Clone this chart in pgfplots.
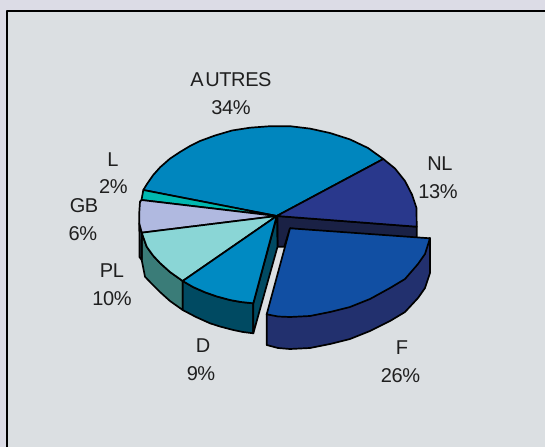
\documentclass[border=0pt]{standalone}
\usepackage{fontspec}
\setmainfont{Liberation Sans}
\usepackage{pgfplots}
\pgfplotsset{compat=1.18}
\definecolor{outerbg}{HTML}{DCDCE6}
\definecolor{innerbg}{HTML}{DBDFE2}
\definecolor{cAutres}{HTML}{0086BE}
\definecolor{cNL}{HTML}{29388C}
\definecolor{cF}{HTML}{114FA3}
\definecolor{cFw}{HTML}{22306E}
\definecolor{cDark}{HTML}{1A2145}
\definecolor{cD}{HTML}{008AC2}
\definecolor{cDw}{HTML}{004A62}
\definecolor{cPL}{HTML}{8AD6D6}
\definecolor{cPLw}{HTML}{3A7C78}
\definecolor{cGB}{HTML}{B0B9E0}
\definecolor{cL}{HTML}{00B8B0}
\newcommand{\lab}[3]{\node[anchor=base,inner sep=0pt,text=black!88,font=\fontsize{20}{21}\selectfont\addfontfeatures{LetterSpace=-2}] at (axis cs:#1,#2) {#3};}
\begin{document}
\begin{tikzpicture}
\begin{axis}[
  scale only axis, width=545pt, height=447pt,
  xmin=0, xmax=545, ymin=0, ymax=447, y dir=reverse,
  axis lines=none,
  every axis plot/.append style={draw=black, line width=1.7pt, line join=round},
]
% backgrounds
\addplot[fill=outerbg, draw=none] coordinates {(0,0)(545,0)(545,447)(0,447)} --cycle;
\addplot[fill=innerbg, draw=none] coordinates {(7,11)(545,11)(545,447)(7,447)} --cycle;
\addplot[draw=black, line width=1.5pt, fill=none] coordinates {(7,447)(7,11)(545,11)};
% walls
\addplot[fill=cFw] coordinates {(430,238)(430,273)(425,288)(418,298)(405,312)(390,321)(370,331)(350,339)(330,344)(310,348)(290,349)(278,348)(266.7,345)(266.7,314)} --cycle;
\addplot[fill=cDark] coordinates {(277.5,216)(416.7,226.7)(416.7,241)(290,228.3)(284.3,246.7)(277.5,246.7)} --cycle;
\addplot[fill=cPLw] coordinates {(141.7,232.7)(146.7,246.7)(153,255.5)(160,263)(170,272)(182.7,281)(182.7,310)(170,301)(160,292)(151,283)(145,276.7)(141.7,260)} --cycle;
\addplot[fill=cPLw!50!cDark] coordinates {(139.3,223.3)(141.7,232.7)(141.7,260)(139.5,257)} --cycle;
\addplot[fill=cDw] coordinates {(182.7,281)(193,287)(205,292.3)(217,296.5)(230,300)(241,302)(253.3,303.3)(253.3,333.3)(243,332)(233.3,330)(220,326.5)(210,323.3)(196,317)(182.7,310)} --cycle;
\addplot[fill=cDw] coordinates {(277,216)(253.3,303.3)(253.3,333.3)(277.5,246.7)} --cycle;
% top faces
\addplot[fill=cAutres] coordinates {(276.7,216)(383.3,159)(368,148)(350,139.4)(330,133)(310,128.6)(290,126.2)(270,126.2)(250,127.7)(232,130.5)(215,135.5)(200,141)(190,146)(180,152)(170,158.6)(160,167.4)(153,175.3)(147,184)(143.3,190)} --cycle;
\addplot[fill=cNL] coordinates {(276.7,216)(383.3,159)(395,168.5)(405,181)(412,194.6)(416.5,208)(416.7,226.7)} --cycle;
\addplot[fill=cL] coordinates {(276.7,216)(143.3,190)(141.5,200)} --cycle;
\addplot[fill=cGB] coordinates {(276.7,216)(141.5,200)(140,201.7)(139.3,212)(139.3,223.3)(141.7,232.7)} --cycle;
\addplot[fill=cPL] coordinates {(276.7,216)(141.7,232.7)(146.7,246.7)(153,255.5)(160,263)(170,272)(182.7,281)} --cycle;
\addplot[fill=cD] coordinates {(276.7,216)(182.7,281)(193,287)(205,292.3)(217,296.5)(230,300)(241,302)(253.3,303.3)} --cycle;
\addplot[fill=cF] coordinates {(290,228.3)(430,238.3)(425,254)(418,264)(405,279)(390,288)(370,299)(350,307)(330,312)(310,316)(290,317)(278,316.5)(266.7,314.3)} --cycle;
% labels
\lab{231}{86}{A\kern1.5pt UTRES}
\lab{231}{114}{34\%}
\lab{113}{166}{L}
\lab{113.5}{193}{2\%}
\lab{84}{212.7}{GB}
\lab{83}{240.7}{6\%}
\lab{112}{277}{PL}
\lab{112}{305.7}{10\%}
\lab{203}{352}{D}
\lab{201}{380}{9\%}
\lab{402}{354}{F}
\lab{400.5}{382}{26\%}
\lab{440}{170}{NL}
\lab{438}{198}{13\%}
\end{axis}
\end{tikzpicture}
\end{document}
